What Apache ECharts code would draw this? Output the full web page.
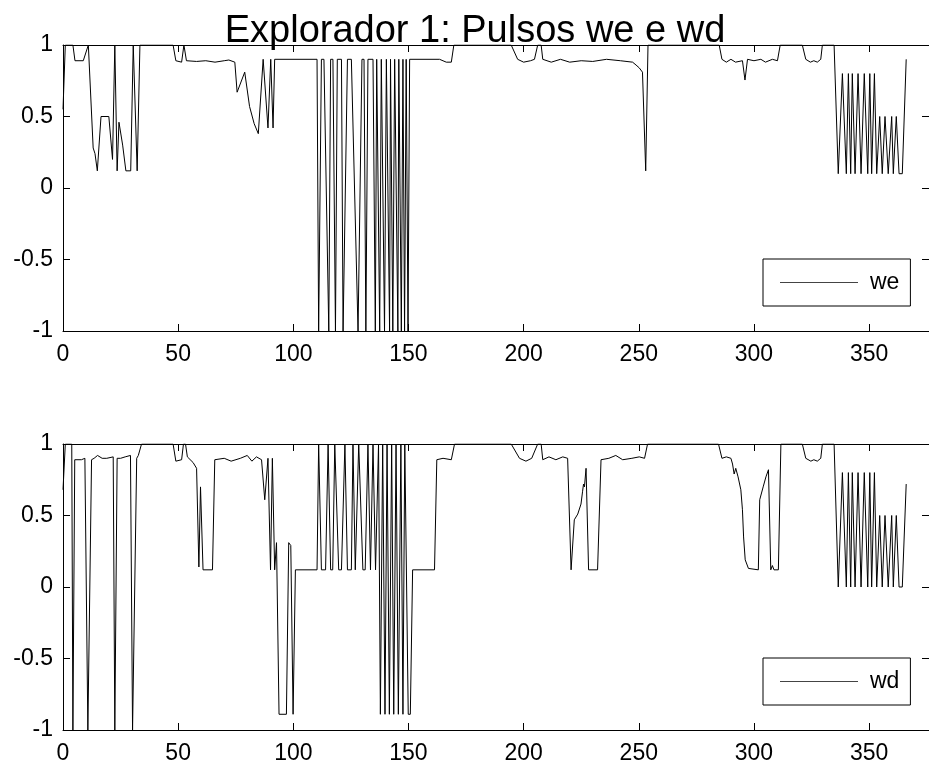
<!DOCTYPE html>
<html>
<head>
<meta charset="utf-8">
<title>Explorador 1</title>
<script src="https://cdn.jsdelivr.net/npm/echarts@6.0.0/dist/echarts.min.js"></script>
<style>
  html, body { margin: 0; padding: 0; background: #fff; }
  #chart_pulsos { width: 929px; height: 769px; }
</style>
</head>
<body>
<div id="chart_pulsos"></div>
<script>
// datos: [dia, valor]
var data_title = 'Explorador 1: Pulsos we e wd';
var data_names = ['we', 'wd'];
var x_ticks = [0, 50, 100, 150, 200, 250, 300, 350];
var y_ticks = [-1, -0.5, 0, 0.5, 1];

var data_we = [
  [0,0.55],[1,1],[4.3,1],[5.2,0.89],[8.8,0.89],[9.4,0.9],[11,1],[11.4,1],[13.1,0.28],[13.9,0.24],
  [14.9,0.12],[15.7,0.12],[16.5,0.5],[19.9,0.5],[21.5,0.2],[22.5,1],[23.5,0.12],[24.3,0.46],[25.9,0.3],
  [27.3,0.12],[29.4,0.12],[30.5,1],[31.2,1],[32.2,0.12],[33.4,1],
  [47.8,1],[49,0.89],[51.5,0.88],[52.5,1],[53.6,0.89],[58,0.885],[62,0.89],[66,0.88],[70,0.89],[72,0.895],[74.6,0.88],
  [75.6,0.67],[78.9,0.81],[81.0,0.57],[83.0,0.45],[84.8,0.38],[86.9,0.9],[89.0,0.42],[90.2,0.9],[91.2,0.42],[91.9,0.9],
  [110.3,0.9],[111.0,-1],[112.2,0.9],[113.3,0.9],[115.4,-1],[116.2,0.9],[117.2,0.9],[118.3,-1],[119.1,0.9],
  [120.9,0.9],[121.6,-1],[123.5,0.9],[125.2,0.9],[128.1,-1],[128.8,-1],[129.8,0.9],[130.7,0.9],[131.5,-1],
  [132.4,0.9],[134.6,0.9],[135.6,-1],[136.2,0.9],[137.5,-1],[138.2,0.9],[139.6,-1],[140.4,0.9],[141.8,-1],
  [142.2,0.9],[143.2,-1],[144.0,0.9],[145.4,-1],[145.8,0.9],[146.9,-1],[147.6,0.9],[148.3,-1],[149.0,0.9],
  [149.8,-1],[150.5,0.9],
  [163.5,0.9],[166.4,0.88],[168.6,0.88],[169.7,1],
  [194.6,1],[197.4,0.9],[200,0.88],[203,0.89],[204.7,0.9],[206.1,1],[207.6,1],[208.3,0.9],[212,0.88],[216,0.9],
  [220,0.88],[225,0.89],[230,0.885],[236,0.9],[242,0.89],[247.3,0.88],[248.8,0.86],[250.2,0.84],[251.6,0.81],
  [253.0,0.12],[254.0,1],
  [284.9,1],[286.1,0.9],[288,0.88],[290,0.9],[292,0.88],[295,0.89],[296.1,0.755],[297.2,0.9],[300,0.89],
  [303,0.9],[305,0.88],[308,0.9],[310.2,0.89],[311.4,1],
  [321.0,1],[322.5,0.9],[324.5,0.88],[326,0.89],[327.5,0.88],[329.0,0.9],[329.7,1],
  [334.8,1],[336.6,0.1],[338.4,0.8],[339.1,0.8],[340.1,0.1],[341.0,0.8],[342.0,0.1],[342.7,0.8],[343.9,0.1],
  [345.2,0.8],[346.5,0.1],[347.9,0.8],[348.5,0.8],[349.4,0.1],[350.3,0.8],[351.1,0.1],[352.3,0.8],[353.3,0.1],
  [354.6,0.5],[355.7,0.1],[356.9,0.5],[358.3,0.1],[359.8,0.5],[360.5,0.1],[361.8,0.5],[363.0,0.1],[364.4,0.1],
  [366.1,0.9]
];

var data_wd = [
  [0,0.68],[1,1],[3.8,1],[4.3,-1],[5.1,0.89],[8,0.89],[9.5,0.9],[10.8,-1],[11.4,-1],[12.4,0.89],[13.5,0.9],
  [15,0.92],[17,0.9],[19,0.9],[21.8,0.91],[22.5,-1],[23.5,0.9],[25,0.9],[27,0.91],[29.3,0.92],[30.2,-1],
  [32.0,0.9],[32.7,0.92],[34.1,1],
  [47.8,1],[49,0.88],[51.5,0.89],[52.3,1],[53.2,1],[54,0.91],[56.5,0.87],[58.0,0.83],[59.0,0.14],[59.7,0.70],
  [60.8,0.12],[64.9,0.12],[65.9,0.89],[70,0.9],[73,0.88],[77,0.9],[80,0.92],[82,0.88],[84,0.91],[86.2,0.89],
  [87.6,0.61],[89.0,0.9],[90.1,0.12],[90.9,0.9],[91.9,0.12],[92.7,0.31],[93.8,-0.89],[97.0,-0.89],[98.0,0.31],
  [98.9,0.29],[99.9,-0.89],[100.9,0.12],[110.3,0.12],
  [111.0,1],[112.2,0.12],[114.0,0.12],[115.1,1],[116.2,0.12],[117.1,0.12],[118.0,1],[119.7,0.12],[120.9,0.12],
  [122.4,1],[123.5,0.12],[125.2,0.12],[125.9,1],[126.9,0.12],[128.4,1],[128.9,1],[130.2,0.12],[131.2,0.12],
  [132.4,1],[133.5,0.12],[134.6,1],[135.7,0.12],[136.4,0.12],[137.0,1],[137.8,-0.89],[138.8,1],[139.8,-0.89],
  [140.7,1],[141.7,-0.89],[142.7,1],[143.6,-0.89],[144.6,1],[145.6,-0.89],[146.7,1],[147.6,-0.89],[148.4,1],
  [149.9,-0.89],[150.8,-0.89],[151.8,0.12],
  [161.3,0.12],[162.3,0.89],[165,0.9],[168.6,0.89],[170.0,1],
  [194.6,1],[198.2,0.9],[201,0.88],[203.5,0.9],[206.1,1],[207.6,1],[208.3,0.89],[211,0.91],[214,0.89],[217,0.91],
  [219.1,0.9],[220.6,0.12],[221.3,0.12],[222.0,0.47],[223.5,0.51],[224.9,0.58],[225.6,0.67],[226.0,0.72],
  [226.4,0.70],[227.1,0.83],[228.2,0.12],[232.1,0.12],[233.6,0.89],[237,0.9],[240,0.92],[243,0.89],[247,0.9],
  [250.2,0.91],[252.5,0.9],[253.8,1],
  [284.6,1],[286.1,0.9],[288,0.91],[290.0,0.9],[290.7,0.86],[291.4,0.79],[292.1,0.83],[293.1,0.77],[294.3,0.68],
  [295.0,0.54],[295.5,0.35],[296.2,0.19],[297.6,0.13],[301.9,0.12],[302.5,0.61],[304.0,0.70],[305.2,0.77],
  [306.3,0.82],[307.3,0.12],[308.0,0.15],[308.7,0.12],[310.6,0.12],[311.7,1],
  [321.0,1],[322.5,0.9],[324.7,0.88],[326,0.89],[327.5,0.88],[329.0,0.9],[329.7,1],
  [334.8,1],[336.6,0],[338.4,0.8],[339.1,0.8],[340.1,0],[341.0,0.8],[342.0,0],[342.7,0.8],[343.9,0],
  [345.2,0.8],[346.5,0],[347.9,0.8],[348.5,0.8],[349.4,0],[350.3,0.8],[351.1,0],[352.3,0.8],[353.3,0],
  [354.6,0.5],[355.7,0],[356.9,0.5],[358.3,0],[359.8,0.5],[360.5,0],[361.8,0.5],[363.0,0],[364.4,0],
  [366.1,0.72]
];

var font = 'Liberation Sans, Arial, sans-serif';
var x_max = 376;

function eje_x(grid, pos, labels) {
  return {
    type: 'value', gridIndex: grid, position: pos,
    min: x_ticks[0], max: x_max, interval: x_ticks[1] - x_ticks[0],
    axisLine: { show: true, onZero: false, lineStyle: { color: '#000', width: 1 } },
    axisTick: { show: true, inside: true, length: 7, lineStyle: { color: '#000' } },
    axisLabel: {
      show: labels, showMaxLabel: false, margin: 12,
      color: '#000', fontFamily: font, fontSize: 23
    },
    splitLine: { show: false }
  };
}

function eje_y(grid, pos, labels) {
  return {
    type: 'value', gridIndex: grid, position: pos,
    min: y_ticks[0], max: y_ticks[y_ticks.length - 1], interval: y_ticks[1] - y_ticks[0],
    axisLine: { show: true, onZero: false, lineStyle: { color: '#000', width: 1 } },
    axisTick: { show: true, inside: true, length: 7, lineStyle: { color: '#000' } },
    axisLabel: {
      show: labels, margin: 10,
      color: '#000', fontFamily: font, fontSize: 23
    },
    splitLine: { show: false }
  };
}

function leyenda(name, top) {
  return {
    data: [name], left: 763, top: top, orient: 'horizontal',
    icon: 'rect', itemWidth: 78, itemHeight: 1, itemGap: 6,
    itemStyle: { color: '#444' },
    padding: [11, 11, 11, 17],
    borderColor: '#000', borderWidth: 1, backgroundColor: '#fff',
    textStyle: { color: '#000', fontFamily: font, fontSize: 23, lineHeight: 25, padding: [0, 0, 0, 7] }
  };
}

function serie(name, idx, data) {
  return {
    name: name, type: 'line', xAxisIndex: idx * 2, yAxisIndex: idx * 2,
    data: data, symbol: 'none', smooth: false,
    lineStyle: { color: '#000', width: 1 },
    itemStyle: { color: '#000' }
  };
}

var myChart = echarts.init(document.getElementById('chart_pulsos'), null, { renderer: 'canvas' });
var option = {
  backgroundColor: '#fff',
  animation: false,
  title: {
    text: data_title, left: 470, top: 8, textAlign: 'center',
    textStyle: { color: '#000', fontFamily: font, fontWeight: 'normal', fontSize: 38 }
  },
  legend: [leyenda(data_names[0], 259), leyenda(data_names[1], 658)],
  grid: [
    { left: 63, top: 45, width: 867, height: 286 },
    { left: 63, top: 444, width: 867, height: 286 }
  ],
  xAxis: [eje_x(0, 'bottom', true), eje_x(0, 'top', false), eje_x(1, 'bottom', true), eje_x(1, 'top', false)],
  yAxis: [eje_y(0, 'left', true), eje_y(0, 'right', false), eje_y(1, 'left', true), eje_y(1, 'right', false)],
  series: [serie(data_names[0], 0, data_we), serie(data_names[1], 1, data_wd)]
};
myChart.setOption(option);
</script>
</body>
</html>
